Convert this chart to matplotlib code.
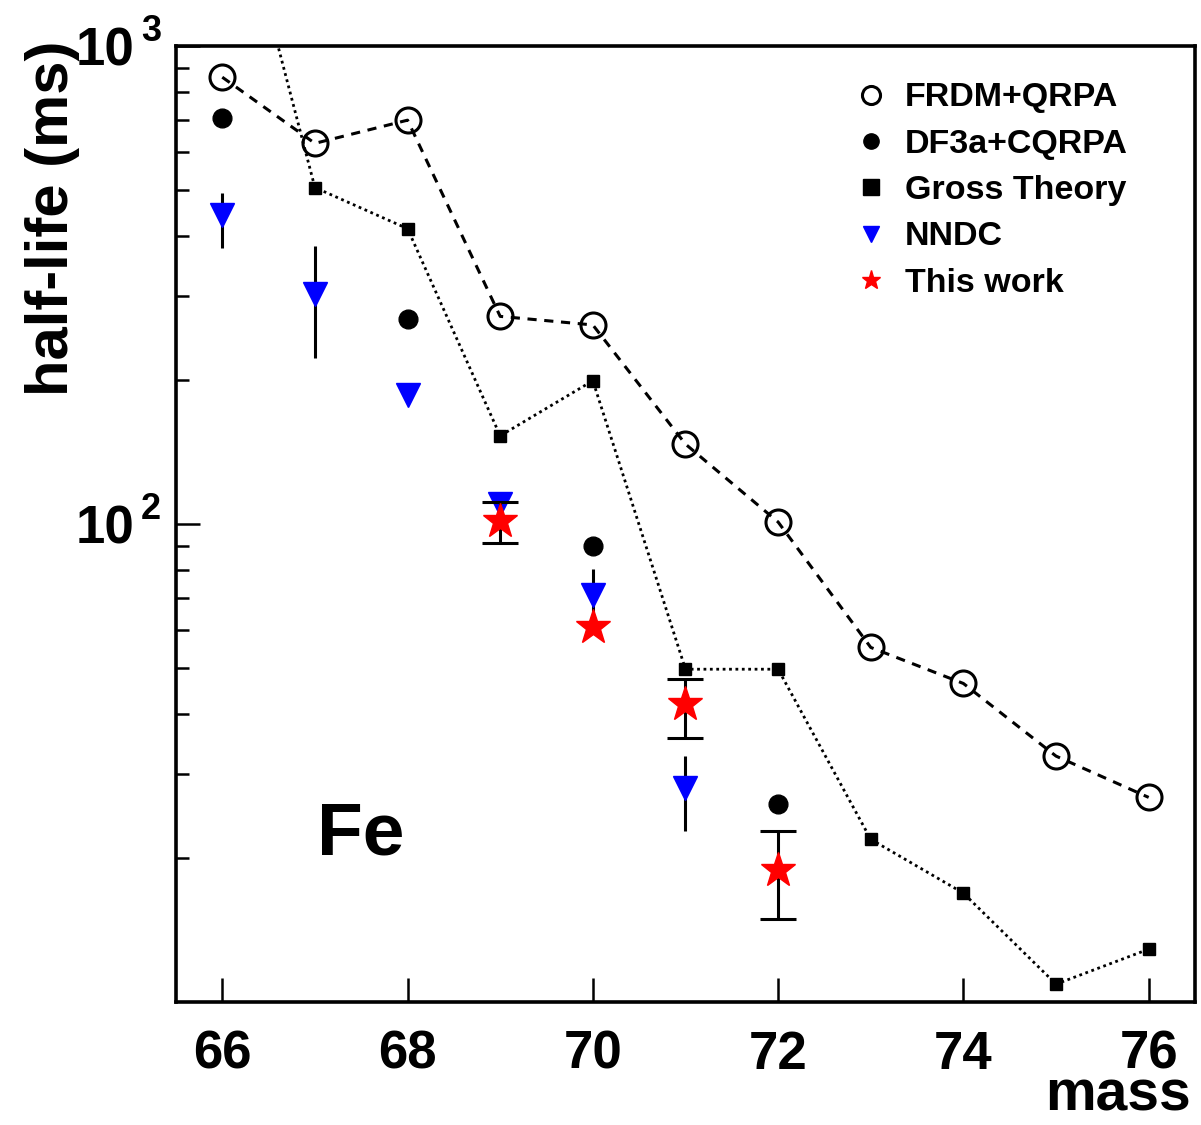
import matplotlib
matplotlib.use("Agg")
import matplotlib.pyplot as plt
from matplotlib.lines import Line2D
from matplotlib.ticker import FixedLocator, NullFormatter, NullLocator
import matplotlib.transforms as mtrans
import numpy as np

plt.rcParams['font.family'] = ['Liberation Sans', 'DejaVu Sans']
plt.rcParams['font.weight'] = 'bold'

# ---- data ----
frdm_mass = [66, 67, 68, 69, 70, 71, 72, 73, 74, 75, 76]
frdm_hl = [861, 626, 700, 272, 261, 147, 101, 55.2, 46.4, 32.7, 26.8]

df3a_mass = [66, 68, 70, 72]
df3a_hl = [706, 269, 89.9, 25.9]

gross_mass = [66, 67, 68, 69, 70, 71, 72, 73, 74, 75, 76]
gross_hl = [2800, 506, 415, 153, 199.5, 49.7, 49.7, 21.9, 16.9, 10.9, 12.9]

nndc_mass = [66, 67, 68, 69, 70, 71]
nndc_hl = [443, 303, 186, 110, 71.0, 28.0]
nndc_lo = [379, 223, 186, 110, 62.6, 22.8]
nndc_hi = [494, 381, 186, 110, 80.5, 32.7]

this_mass = [69, 70, 71, 72]
this_hl = [101.5, 60.8, 42.0, 18.9]
this_lo = [91.2, 60.8, 35.6, 14.9]
this_hi = [111.2, 60.8, 47.5, 22.8]

xticks = [66, 68, 70, 72, 74, 76]
yticks = [100, 1000]
ytick_base = ['10', '10']
ytick_exp = ['2', '3']

fig = plt.figure(figsize=(12.01, 11.25), dpi=100)
ax = fig.add_axes([0.1465, 0.1093, 0.995 - 0.1465, 0.959 - 0.1093])

ax.set_yscale('log')
ax.set_xlim(65.5, 76.5)
ax.set_ylim(10, 1000)

# FRDM+QRPA
ax.plot(frdm_mass, frdm_hl, color='black', ls=(0, (3, 2.5)), lw=2.2,
        marker='o', ms=18, mfc='none', mec='black', mew=2.2, zorder=3)
# DF3a+CQRPA
ax.plot(df3a_mass, df3a_hl, ls='none', marker='o', ms=13.5, color='black', zorder=3)
# Gross Theory
ax.plot(gross_mass, gross_hl, color='black', ls=(0, (1, 1.3)), lw=2.0,
        marker='s', ms=8.5, zorder=3)
# NNDC
nl = np.array(nndc_hl)
ax.errorbar(nndc_mass, nndc_hl,
            yerr=[nl - np.array(nndc_lo), np.array(nndc_hi) - nl],
            fmt='v', color='blue', ms=17, ecolor='black', elinewidth=2.2,
            capsize=0, zorder=4)
# This work (error bars only where an uncertainty is shown)
tm = np.array(this_mass, dtype=float)
tl = np.array(this_hl)
tlo = np.array(this_lo)
thi = np.array(this_hi)
has_err = (thi - tlo) > 0
ax.errorbar(tm[has_err], tl[has_err],
            yerr=[tl[has_err] - tlo[has_err], thi[has_err] - tl[has_err]],
            fmt='none', ecolor='black', elinewidth=2.2, capsize=13,
            capthick=2.2, zorder=5)
ax.plot(this_mass, this_hl, ls='none', marker='*', ms=26, color='red',
        mec='red', zorder=6)

# axes styling
for sp in ax.spines.values():
    sp.set_linewidth(2.6)

ax.xaxis.set_major_locator(FixedLocator(xticks))
ax.xaxis.set_minor_locator(NullLocator())
ax.set_xticklabels([str(v) for v in xticks])
ax.tick_params(axis='x', which='major', direction='in', length=17, width=1.8,
               labelsize=38, pad=20)

ax.yaxis.set_major_locator(FixedLocator(yticks))
ax.set_yticklabels(ytick_base)
minor = [v * d for d in (10, 100) for v in range(2, 10)]
ax.yaxis.set_minor_locator(FixedLocator(minor))
ax.yaxis.set_minor_formatter(NullFormatter())
ax.tick_params(axis='y', which='major', direction='in', length=17, width=1.8,
               labelsize=38, pad=30)
ax.tick_params(axis='y', which='minor', direction='in', length=9, width=1.8)

blend = mtrans.blended_transform_factory(ax.transAxes, ax.transData)
for yv, ex in zip(yticks, ytick_exp):
    ax.annotate(ex, xy=(-0.0345, yv), xycoords=blend, xytext=(0, 4),
                textcoords='offset points', fontsize=26, fontweight='bold',
                ha='left', va='baseline', annotation_clip=False)

ax.set_ylabel('half-life (ms)', fontsize=43, fontweight='bold', loc='top')
ax.yaxis.set_label_coords(-0.094, 1.006)
ax.set_xlabel('mass', fontsize=41, fontweight='bold', loc='right')
ax.xaxis.label.set_va('bottom')
ax.xaxis.set_label_coords(0.996, -0.1255)

ax.text(0.138, 0.175, 'Fe', transform=ax.transAxes, fontsize=54,
        fontweight='bold', ha='left', va='center')

handles = [
    Line2D([], [], ls='none', marker='o', ms=13, mfc='none', mec='black', mew=2.2),
    Line2D([], [], ls='none', marker='o', ms=11, color='black'),
    Line2D([], [], ls='none', marker='s', ms=11, color='black'),
    Line2D([], [], ls='none', marker='v', ms=12, color='blue'),
    Line2D([], [], ls='none', marker='*', ms=14, color='red'),
]
labels = ['FRDM+QRPA', 'DF3a+CQRPA', 'Gross Theory', 'NNDC', 'This work']
leg = ax.legend(handles, labels, loc='upper right', frameon=False,
                prop={'size': 24.5, 'weight': 'bold'}, handlelength=1.0,
                handletextpad=0.5, labelspacing=0.45,
                bbox_to_anchor=(0.964, 0.994))

fig.savefig('out.png', dpi=100)
